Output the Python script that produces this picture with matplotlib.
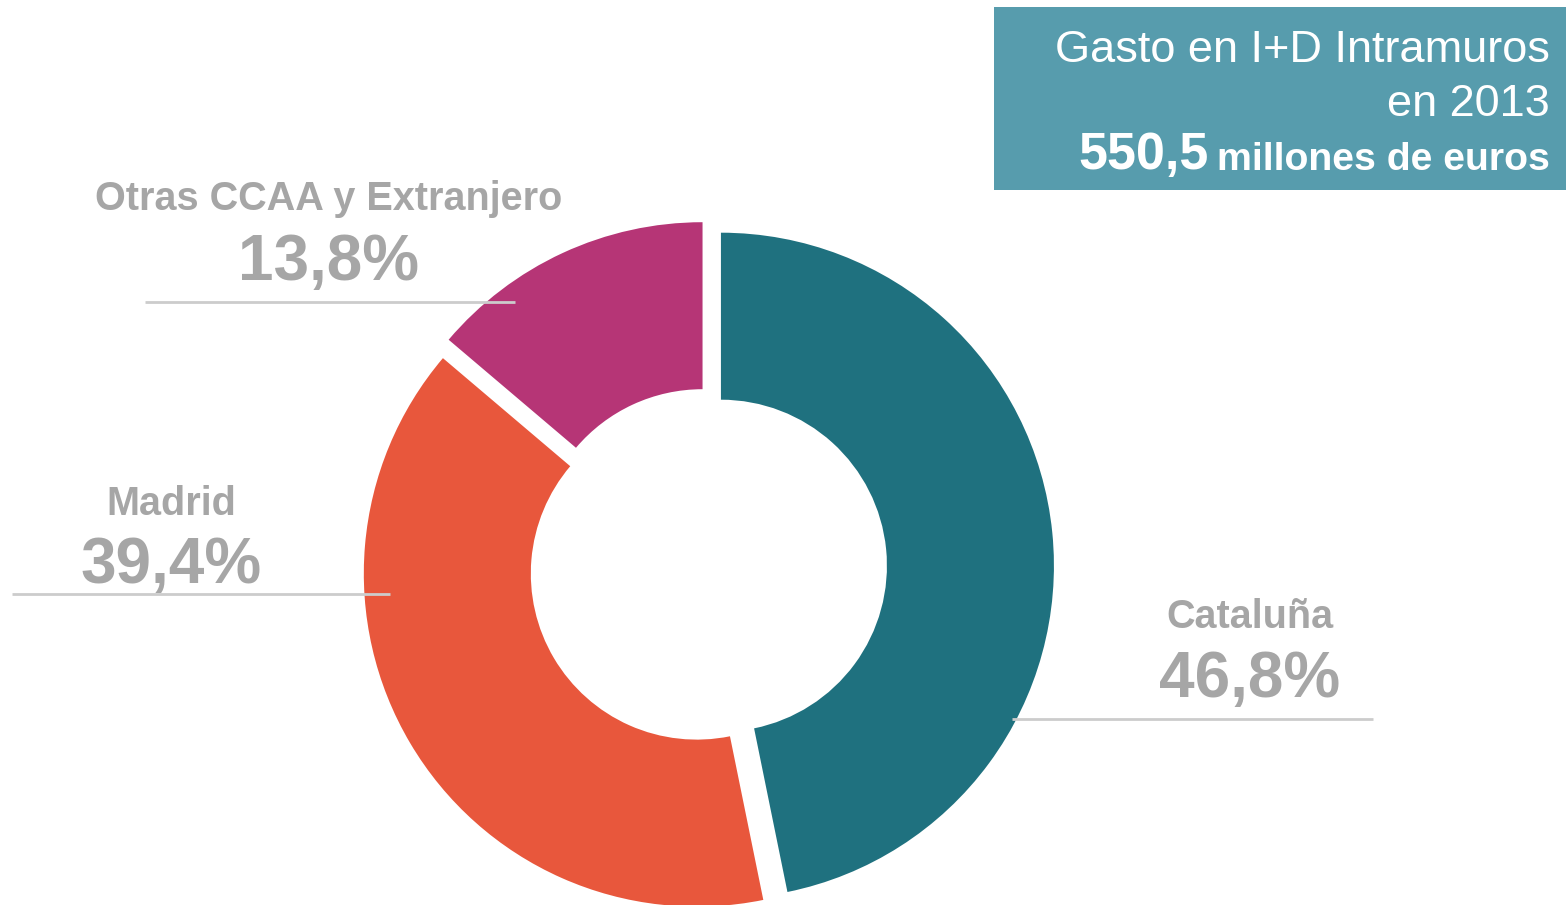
import matplotlib.pyplot as plt
from matplotlib.patches import Rectangle

# data
regions = ['Cataluña', 'Madrid', 'Otras CCAA y Extranjero']
shares = [46.8, 39.4, 13.8]
pct_labels = ['46,8%', '39,4%', '13,8%']
colors = ['#1F717F', '#E8573C', '#B63576']

title_lines = ['Gasto en I+D Intramuros', 'en 2013']
total_value = '550,5'
total_unit = 'millones de euros'

plt.rcParams['font.family'] = ['Liberation Sans', 'DejaVu Sans']

W, H = 1566, 905
fig = plt.figure(figsize=(W / 100, H / 100), dpi=100)
ax = fig.add_axes([0, 0, 1, 1])

# donut, pixel-like data coords (y up)
ax.pie(shares, colors=colors, startangle=90, counterclock=False,
       radius=333, center=(708, H - 567), explode=[13, 13, 13],
       wedgeprops=dict(width=167, linewidth=0))
ax.set_xlim(0, W)
ax.set_ylim(0, H)
ax.set_aspect('equal')
ax.axis('off')

gray = '#A6A6A6'
line_col = '#CCCCCC'
# label positions: (center x, name baseline, pct baseline, line y, line x0, line x1)
label_pos = [
    (1250, 628, 697, 719, 1012, 1373),
    (171, 515, 583, 594, 12, 390),
    (329, 210, 280, 302, 145, 515),
]
for name, pct, (cx, yb1, yb2, ly, lx0, lx1) in zip(regions, pct_labels, label_pos):
    ax.text(cx, H - yb1, name, ha='center', va='baseline', fontsize=28.5,
            fontweight='bold', color=gray)
    ax.text(cx, H - yb2, pct, ha='center', va='baseline', fontsize=46,
            fontweight='bold', color=gray)
    ax.plot([lx0, lx1], [H - ly, H - ly], color=line_col, lw=2,
            solid_capstyle='butt', zorder=5)

# title box
ax.add_patch(Rectangle((994, H - 190), W - 994, 183, facecolor='#579CAD',
                       edgecolor='none', zorder=3))
ax.text(1550, H - 62, title_lines[0], ha='right', va='baseline', fontsize=32.5,
        color='white', zorder=4)
ax.text(1550, H - 116, title_lines[1], ha='right', va='baseline', fontsize=32.5,
        color='white', zorder=4)
t_unit = ax.text(1550, H - 170, total_unit, ha='right', va='baseline',
                 fontsize=28.3, fontweight='bold', color='white', zorder=4)
ax.annotate(total_value, xy=(0, 0), xycoords=t_unit, xytext=(-6, -1.5),
            textcoords='offset points', ha='right', va='bottom', fontsize=37.5,
            fontweight='bold', color='white', zorder=4)

fig.savefig('out.png', dpi=100)
